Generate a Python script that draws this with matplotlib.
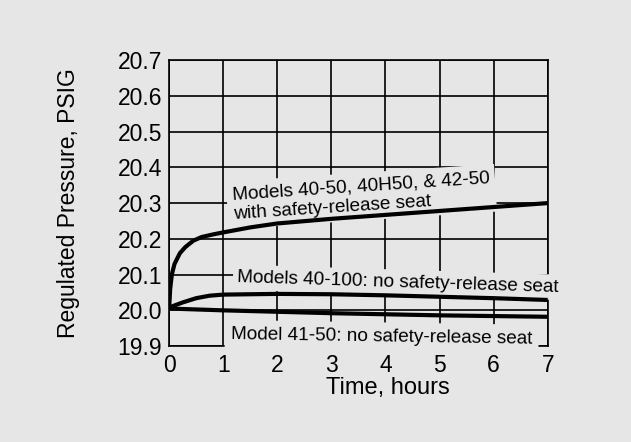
import matplotlib
matplotlib.use("Agg")
import matplotlib.pyplot as plt

plt.rcParams['font.family'] = ['Liberation Sans', 'DejaVu Sans']

BG = '#e6e6e6'

time_top = [0, 0.02, 0.05, 0.1, 0.2, 0.3, 0.45, 0.6, 0.8, 1, 1.5, 2, 3, 4, 5, 6, 7]
p_top = [20.005, 20.06, 20.10, 20.13, 20.16, 20.177, 20.195, 20.205, 20.212, 20.218,
         20.232, 20.243, 20.256, 20.267, 20.278, 20.289, 20.30]

time_mid = [0, 0.25, 0.5, 0.75, 1, 2, 3, 4, 5, 6, 7]
p_mid = [20.008, 20.022, 20.034, 20.041, 20.044, 20.046, 20.045, 20.042, 20.038, 20.034, 20.029]

time_bot = [0, 1, 2, 3, 4, 5, 6, 7]
p_bot = [20.005, 20.0, 19.996, 19.992, 19.989, 19.986, 19.984, 19.982]

label_top = "Models 40-50, 40H50, & 42-50\nwith safety-release seat"
label_mid = "Models 40-100: no safety-release seat"
label_bot = "Model 41-50: no safety-release seat"

x_ticks = [0, 1, 2, 3, 4, 5, 6, 7]
y_ticks = [19.9, 20.0, 20.1, 20.2, 20.3, 20.4, 20.5, 20.6, 20.7]

fig = plt.figure(figsize=(6.31, 4.42), dpi=100, facecolor=BG)
ax = fig.add_axes([0.268, 0.217, 0.600, 0.647], facecolor=BG)

for t, p in ((time_top, p_top), (time_mid, p_mid), (time_bot, p_bot)):
    ax.plot(t, p, color='black', lw=3.0, solid_capstyle='butt', zorder=4)

ax.set_xlim(0, 7)
ax.set_ylim(19.9, 20.7)
ax.set_xticks(x_ticks)
ax.set_yticks(y_ticks)
ax.set_xticklabels([str(t) for t in x_ticks])
ax.set_yticklabels([f"{v:.1f}" for v in y_ticks])
ax.tick_params(length=0, labelsize=16.5, pad=5)
ax.tick_params(axis='x', pad=6)
ax.grid(True, color='black', lw=1.2, zorder=1)
ax.set_axisbelow(True)
for s in ax.spines.values():
    s.set_linewidth(1.2)
    s.set_zorder(1.5)

ax.set_xlabel("Time, hours", fontsize=17)
ax.xaxis.set_label_coords(0.578, -0.108)
ax.xaxis.label.set_va('top')
ax.set_ylabel("Regulated Pressure, PSIG", fontsize=16.5, labelpad=27)

ax.text(1.19, 20.262, label_top, fontsize=13.7, rotation=3.75, rotation_mode='anchor',
        ha='left', va='baseline', zorder=3,
        bbox=dict(facecolor=BG, edgecolor='none', pad=4))
ax.text(1.256, 20.080, label_mid, fontsize=13.7, rotation=-1.8, rotation_mode='anchor',
        ha='left', va='baseline', zorder=3,
        bbox=dict(facecolor=BG, edgecolor='none', pad=3))
ax.text(1.145, 19.919, label_bot, fontsize=13.7, rotation=-0.9, rotation_mode='anchor',
        ha='left', va='baseline', zorder=3,
        bbox=dict(facecolor=BG, edgecolor='none', pad=4.5))

fig.savefig("out.png", dpi=100, facecolor=BG)
